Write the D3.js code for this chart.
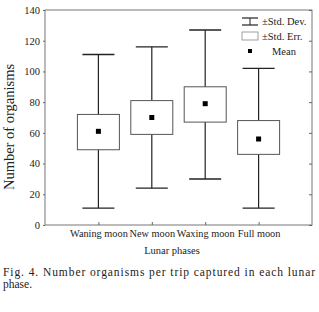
<!DOCTYPE html>
<html>
<head>
<meta charset="utf-8">
<script src="https://cdn.jsdelivr.net/npm/d3@7"></script>
<style>
  body { margin: 0; background: #fff; }
  svg text { font-family: "Times New Roman", "Liberation Serif", Times, serif; fill: #222; }
</style>
</head>
<body>
<svg width="319" height="312"></svg>
<script>
// lunar phases and the summary stats
var phases = ["Waning moon", "New moon", "Waxing moon", "Full moon"];
var means = [61, 70, 79, 56];
var seLow = [49, 59, 67, 46];
var seHigh = [72, 81, 90, 68];
var sdLow = [11, 24, 30, 11];
var sdHigh = [111, 116, 127, 102];
var yTicks = [0, 20, 40, 60, 80, 100, 120, 140];

var data = phases.map(function (p, i) {
    return { name: p, mean: means[i], lo: seLow[i], hi: seHigh[i], min: sdLow[i], max: sdHigh[i] };
});

var svg = d3.select("svg");
var mLeft = 45, mRight = 312, mTop = 10, mBottom = 225;
var ink = "#222";

var x = d3.scalePoint().domain(phases).range([mLeft, mRight]).padding(1);
var y = d3.scaleLinear().domain([0, 140]).range([mBottom, mTop]);

// frame
svg.append("rect")
    .attr("x", mLeft).attr("y", mTop)
    .attr("width", mRight - mLeft).attr("height", mBottom - mTop)
    .attr("fill", "none").attr("stroke", "#777").attr("stroke-width", 1);

// left axis
var yAxis = svg.append("g")
    .attr("transform", "translate(" + mLeft + ",0)")
    .call(d3.axisLeft(y).tickValues(yTicks).tickSize(2).tickPadding(3));
yAxis.select(".domain").remove();
yAxis.selectAll("line").attr("stroke", "#666");
yAxis.selectAll("text").attr("font-size", 10.5).attr("fill", ink);

// right axis ticks inward
var yAxisR = svg.append("g")
    .attr("transform", "translate(" + mRight + ",0)")
    .call(d3.axisLeft(y).tickValues(yTicks).tickSize(3).tickFormat(""));
yAxisR.select(".domain").remove();
yAxisR.selectAll("line").attr("stroke", "#666");

// bottom axis
var xAxis = svg.append("g")
    .attr("transform", "translate(0," + mBottom + ")")
    .call(d3.axisBottom(x).tickSize(-3).tickPadding(5));
xAxis.select(".domain").remove();
xAxis.selectAll("line").attr("stroke", "#666");
xAxis.selectAll("text").attr("font-size", 10.3).attr("fill", ink);

var boxW = 42, capW = 32;

var g = svg.selectAll(".box").data(data).enter().append("g");

// whiskers (std dev)
g.append("line")
    .attr("x1", d => x(d.name)).attr("x2", d => x(d.name))
    .attr("y1", d => y(d.max)).attr("y2", d => y(d.min))
    .attr("stroke", ink).attr("stroke-width", 1.2);
g.append("line")
    .attr("x1", d => x(d.name) - capW / 2).attr("x2", d => x(d.name) + capW / 2)
    .attr("y1", d => y(d.max)).attr("y2", d => y(d.max))
    .attr("stroke", ink).attr("stroke-width", 1.4);
g.append("line")
    .attr("x1", d => x(d.name) - capW / 2).attr("x2", d => x(d.name) + capW / 2)
    .attr("y1", d => y(d.min)).attr("y2", d => y(d.min))
    .attr("stroke", ink).attr("stroke-width", 1.4);

// std err box
g.append("rect")
    .attr("x", d => x(d.name) - boxW / 2)
    .attr("y", d => y(d.hi))
    .attr("width", boxW)
    .attr("height", d => y(d.lo) - y(d.hi))
    .attr("fill", "#fff").attr("stroke", "#555").attr("stroke-width", 1);

// mean
g.append("rect")
    .attr("x", d => x(d.name) - 2.5).attr("y", d => y(d.mean) - 2.5)
    .attr("width", 5).attr("height", 5).attr("fill", "#000");

// legend
var lg = svg.append("g").attr("transform", "translate(242,0)");
lg.append("line").attr("x1", 0).attr("x2", 16).attr("y1", 18).attr("y2", 18).attr("stroke", ink).attr("stroke-width", 1.2);
lg.append("line").attr("x1", 0).attr("x2", 16).attr("y1", 25).attr("y2", 25).attr("stroke", ink).attr("stroke-width", 1.2);
lg.append("line").attr("x1", 8).attr("x2", 8).attr("y1", 18).attr("y2", 25).attr("stroke", ink).attr("stroke-width", 1);
lg.append("text").attr("x", 20).attr("y", 25).attr("font-size", 10.5).text("±Std. Dev.");
lg.append("rect").attr("x", 0).attr("y", 32).attr("width", 16).attr("height", 8).attr("fill", "#fff").attr("stroke", "#888").attr("stroke-width", 0.8);
lg.append("text").attr("x", 20).attr("y", 40).attr("font-size", 10.5).text("±Std. Err.");
lg.append("rect").attr("x", 6).attr("y", 49).attr("width", 4).attr("height", 4).attr("fill", "#000");
lg.append("text").attr("x", 30).attr("y", 55).attr("font-size", 10.5).text("Mean");

// axis titles
svg.append("text")
    .attr("transform", "translate(14,127) rotate(-90)")
    .attr("text-anchor", "middle").attr("font-size", 14.5)
    .text("Number of organisms");
svg.append("text")
    .attr("x", 172).attr("y", 254)
    .attr("text-anchor", "middle").attr("font-size", 10.5)
    .text("Lunar phases");

// caption
svg.append("text").attr("x", 3).attr("y", 276).attr("font-size", 11.5)
    .attr("textLength", 312).attr("lengthAdjust", "spacing")
    .text("Fig. 4. Number organisms per trip captured in each lunar");
svg.append("text").attr("x", 3).attr("y", 288).attr("font-size", 11.5)
    .text("phase.");
</script>
</body>
</html>
